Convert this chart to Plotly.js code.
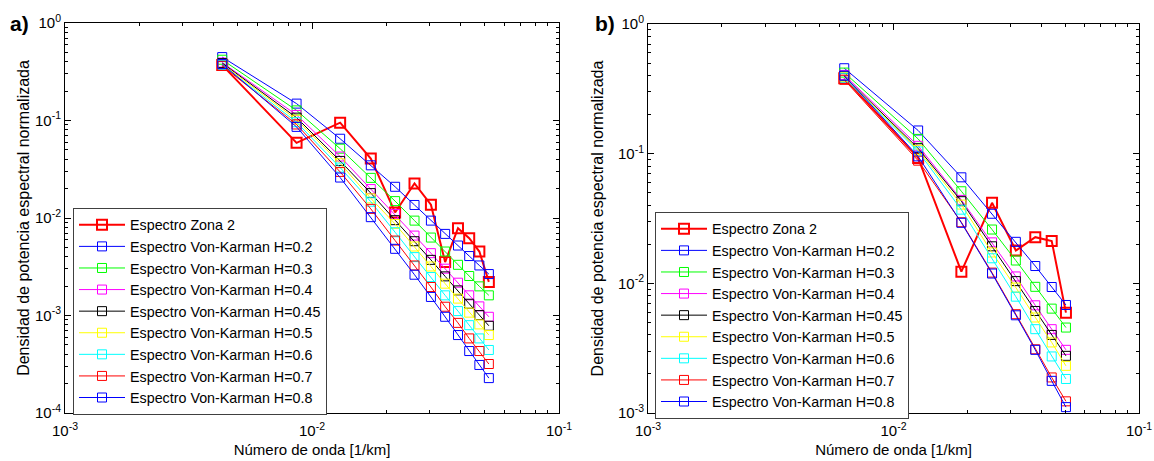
<!DOCTYPE html>
<html>
<head>
<meta charset="utf-8">
<script src="https://cdn.plot.ly/plotly-3.0.1.min.js"></script>
<style>html,body{margin:0;padding:0;background:#fff;}#chart{width:1154px;height:461px;}</style>
</head>
<body>
<div id="chart"></div>
<script>
// ---- Panel a) ----
const kA = [0.00433, 0.00866, 0.0130, 0.0173, 0.0217, 0.0260, 0.0303, 0.0346, 0.0390, 0.0433, 0.0476, 0.0520];
const zonaA = [0.37, 0.059, 0.095, 0.0407, 0.0114, 0.0226, 0.0137, 0.00353, 0.00785, 0.0062, 0.00453, 0.00221];
const h02A  = [0.447, 0.149, 0.065, 0.0347, 0.0209, 0.0136, 0.0094, 0.00687, 0.00522, 0.00407, 0.00326, 0.00266];
const h03A  = [0.42, 0.127, 0.0514, 0.0258, 0.0149, 0.0094, 0.0063, 0.00453, 0.00331, 0.00254, 0.00199, 0.00161];
const h04A  = [0.393, 0.114, 0.0427, 0.0198, 0.011, 0.0066, 0.00436, 0.00302, 0.00217, 0.00161, 0.00124, 0.00097];
const h045A = [0.388, 0.107, 0.0385, 0.018, 0.0095, 0.00578, 0.00372, 0.00252, 0.00181, 0.00132, 0.00101, 0.000785];
const h05A  = [0.38, 0.102, 0.0364, 0.0159, 0.0087, 0.0051, 0.00318, 0.00212, 0.00149, 0.00107, 0.00081, 0.00063];
const h06A  = [0.37, 0.096, 0.0329, 0.0147, 0.00714, 0.00397, 0.00248, 0.00161, 0.00111, 0.000796, 0.000582, 0.000443];
const h07A  = [0.364, 0.091, 0.0297, 0.0124, 0.00587, 0.00326, 0.00196, 0.00123, 0.00084, 0.000582, 0.000432, 0.000318];
const h08A  = [0.38, 0.086, 0.026, 0.0102, 0.00483, 0.00262, 0.00155, 0.00097, 0.00063, 0.000432, 0.000311, 0.000228];

// ---- Panel b) ----
const kB = [0.0063, 0.0126, 0.0189, 0.0252, 0.0315, 0.0378, 0.0441, 0.0504];
const zonaB = [0.382, 0.0927, 0.0123, 0.0418, 0.0179, 0.0227, 0.0212, 0.00594];
const h02B  = [0.456, 0.151, 0.0657, 0.0344, 0.0209, 0.0136, 0.00937, 0.00681];
const h03B  = [0.422, 0.13, 0.0513, 0.026, 0.015, 0.0094, 0.00638, 0.00456];
const h04B  = [0.405, 0.115, 0.044, 0.0207, 0.0113, 0.00677, 0.00443, 0.00307];
const h045B = [0.395, 0.11, 0.043, 0.0193, 0.0104, 0.00612, 0.004, 0.00276];
const h05B  = [0.39, 0.107, 0.0405, 0.0173, 0.00927, 0.00545, 0.0035, 0.00231];
const h06B  = [0.385, 0.104, 0.037, 0.0156, 0.00789, 0.00443, 0.00273, 0.00183];
const h07B  = [0.371, 0.0883, 0.0296, 0.0121, 0.00578, 0.0031, 0.00188, 0.00123];
const h08B  = [0.40, 0.0953, 0.0293, 0.0119, 0.00567, 0.00307, 0.00177, 0.00111];

// ---- Tick labels ----
const xTickVals = [0.001, 0.01, 0.1];
const xTickText = ["10<sup>-3</sup>", "10<sup>-2</sup>", "10<sup>-1</sup>"];
const yTickValsA = [0.0001, 0.001, 0.01, 0.1, 1];
const yTickTextA = ["10<sup>-4</sup>", "10<sup>-3</sup>", "10<sup>-2</sup>", "10<sup>-1</sup>", "10<sup>0</sup>"];
const yTickValsB = [0.001, 0.01, 0.1, 1];
const yTickTextB = ["10<sup>-3</sup>", "10<sup>-2</sup>", "10<sup>-1</sup>", "10<sup>0</sup>"];

const names = ["Espectro Zona 2", "Espectro Von-Karman H=0.2", "Espectro Von-Karman H=0.3",
  "Espectro Von-Karman H=0.4", "Espectro Von-Karman H=0.45", "Espectro Von-Karman H=0.5",
  "Espectro Von-Karman H=0.6", "Espectro Von-Karman H=0.7", "Espectro Von-Karman H=0.8"];
const colors = ["#ff0000", "#0000ff", "#00ff00", "#ff00ff", "#000000", "#ffff00", "#00ffff", "#ff0000", "#0000ff"];

const seriesA = [zonaA, h02A, h03A, h04A, h045A, h05A, h06A, h07A, h08A];
const seriesB = [zonaB, h02B, h03B, h04B, h045B, h05B, h06B, h07B, h08B];

const traces = [];
function addPanel(k, series, xa, ya, leg, tag) {
  series.forEach((ys, i) => {
    const thick = i === 0;
    traces.push({
      x: k, y: ys, type: 'scatter', mode: 'lines+markers', name: names[i],
      xaxis: xa, yaxis: ya, legend: leg, legendgroup: tag + i,
      line: {color: colors[i], width: thick ? 2 : 1},
      marker: {symbol: 'square-open', size: thick ? 10 : 9, color: colors[i],
               line: {color: colors[i], width: thick ? 2 : 1}}
    });
  });
}
addPanel(kA, seriesA, 'x', 'y', 'legend', 'a');
addPanel(kB, seriesB, 'x2', 'y2', 'legend2', 'b');

const W = 1154, H = 461;
const fontFam = 'Liberation Sans, Arial, sans-serif';
function common() {
  return {
    type: 'log', tickmode: 'array', ticks: 'inside', ticklen: 6, tickcolor: '#000',
    minor: {ticks: 'inside', ticklen: 3, tickcolor: '#000', dtick: 'D1', showgrid: false},
    showline: true, linecolor: '#000', linewidth: 1, mirror: 'allticks',
    showgrid: false, zeroline: false, ticklabeloverflow: 'allow',
    tickfont: {family: fontFam, size: 15, color: '#000'}
  };
}
function xAxis(x0, x1) {
  return Object.assign(common(), {
    range: [-3, -1], domain: [x0 / W, x1 / W], tickvals: xTickVals, ticktext: xTickText,
    ticklabelstandoff: 4,
    title: {text: 'Número de onda [1/km]', font: {family: fontFam, size: 15, color: '#000'}, standoff: 6}
  });
}
function yAxis(y0, y1, rng, tv, tt, so) {
  return Object.assign(common(), {
    range: rng, domain: [(H - y1) / H, (H - y0) / H], tickvals: tv, ticktext: tt,
    title: {text: 'Densidad de potencia espectral normalizada', font: {family: fontFam, size: 16, color: '#000'}, standoff: so}
  });
}
function legendAt(x, y) {
  return {
    x: x / W, y: (H - y) / H, xanchor: 'left', yanchor: 'top',
    bgcolor: '#ffffff', bordercolor: '#404040', borderwidth: 1,
    font: {family: fontFam, size: 14.3, color: '#000'},
    itemwidth: 46, tracegroupgap: 0, traceorder: 'normal'
  };
}

const yA = yAxis(23, 413, [-4, 0], yTickValsA, yTickTextA, 1);
const yB = yAxis(24, 413, [-3, 0], yTickValsB, yTickTextB, 10);
yB.anchor = 'x2';
const xA = xAxis(65, 559);
const xB = xAxis(648, 1139);
xB.anchor = 'y2';

const layout = {
  width: W, height: H, margin: {l: 0, r: 0, t: 0, b: 0},
  paper_bgcolor: '#ffffff', plot_bgcolor: '#ffffff',
  font: {family: fontFam, color: '#000'},
  xaxis: xA, yaxis: yA, xaxis2: xB, yaxis2: yB,
  legend: legendAt(73, 208), legend2: legendAt(655, 212),
  showlegend: true,
  annotations: [
    {text: '<b>a)</b>', x: 8 / W, y: (H - 23) / H, xref: 'paper', yref: 'paper', xanchor: 'left', yanchor: 'middle',
     showarrow: false, font: {family: fontFam, size: 21, color: '#000'}},
    {text: '<b>b)</b>', x: 593 / W, y: (H - 23) / H, xref: 'paper', yref: 'paper', xanchor: 'left', yanchor: 'middle',
     showarrow: false, font: {family: fontFam, size: 21, color: '#000'}}
  ]
};

Plotly.newPlot('chart', traces, layout, {staticPlot: true, displayModeBar: false});
</script>
</body>
</html>
